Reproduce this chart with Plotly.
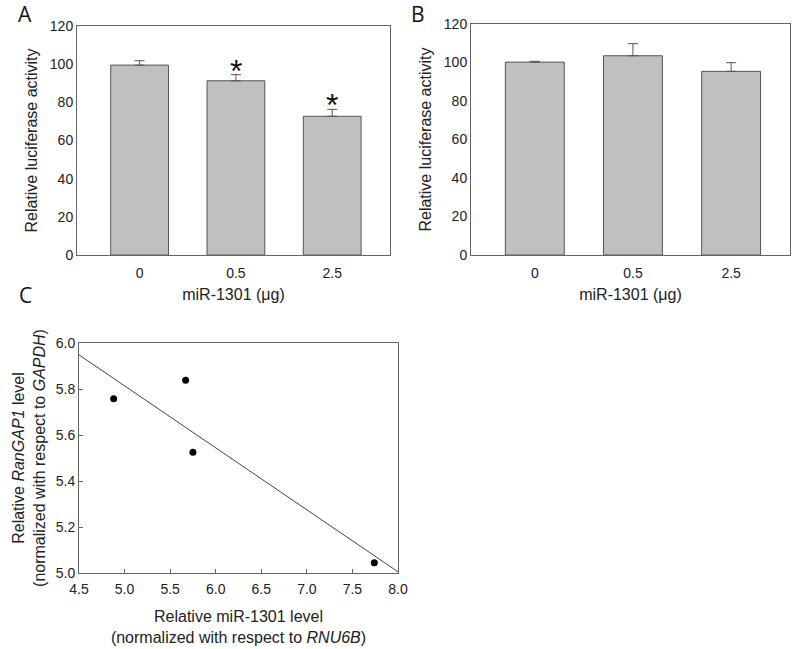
import numpy as np
import plotly.graph_objects as go

# ---- data ----
doses = ["0", "0.5", "2.5"]
a_values = [99.5, 91.3, 72.7]
a_errors = [2.3, 3.2, 3.6]
a_signif = [False, True, True]
b_values = [100.2, 103.5, 95.4]
b_errors = [0.4, 6.3, 4.5]
c_mir = [4.88, 5.67, 5.75, 7.74]
c_rangap = [5.758, 5.838, 5.525, 5.045]

W, H = 794, 649
def px(x): return x / W
def py(y): return 1 - y / H

fig = go.Figure()

bar_style = dict(marker=dict(color="#c0c0c0", line=dict(color="#555555", width=1)), width=0.6, showlegend=False)
err_style = dict(type="data", symmetric=False, thickness=1, width=5, color="#555555")

fig.add_trace(go.Bar(x=doses, y=a_values, xaxis="x", yaxis="y",
                     error_y=dict(array=a_errors, arrayminus=[0]*3, **err_style), **bar_style))
fig.add_trace(go.Bar(x=doses, y=b_values, xaxis="x2", yaxis="y2",
                     error_y=dict(array=b_errors, arrayminus=[0]*3, **err_style), **bar_style))

slope, intercept = np.polyfit(c_mir, c_rangap, 1)
lx = np.array([4.5, 8.0])
fig.add_trace(go.Scatter(x=lx, y=slope * lx + intercept, mode="lines", xaxis="x3", yaxis="y3",
                         line=dict(color="#444444", width=1), showlegend=False))
fig.add_trace(go.Scatter(x=c_mir, y=c_rangap, mode="markers", xaxis="x3", yaxis="y3",
                         marker=dict(color="black", size=7), showlegend=False))

font_t = dict(family="Liberation Sans, Arial, sans-serif", size=14, color="#222222")
font_title = dict(family="Liberation Sans, Arial, sans-serif", size=16, color="#222222")
axis_common = dict(showline=True, mirror=True, linecolor="#666666", linewidth=1,
                   showgrid=False, zeroline=False, tickfont=font_t, automargin=False)

bar_x = dict(type="category", categoryorder="array", categoryarray=doses, range=[-0.65, 2.6],
             ticks="", ticklabelstandoff=5,
             title=dict(text="miR-1301 (μg)", font=font_title, standoff=9), **axis_common)
bar_y = dict(range=[0, 120], tickvals=list(range(0, 121, 20)), ticks="",
             title=dict(text="Relative luciferase activity", font=font_title, standoff=8), **axis_common)

fig.update_layout(
    width=W, height=H, margin=dict(l=0, r=0, t=0, b=0, autoexpand=False),
    paper_bgcolor="white", plot_bgcolor="white", bargap=0.4,
    xaxis=dict(domain=[px(77), px(390)], anchor="y", **bar_x),
    yaxis=dict(domain=[py(255), py(26)], anchor="x", **bar_y),
    xaxis2=dict(domain=[px(471), px(790)], anchor="y2", **bar_x),
    yaxis2=dict(domain=[py(255), py(24)], anchor="x2", **bar_y),
    xaxis3=dict(domain=[px(79), px(398)], anchor="y3", range=[4.5, 8.0],
                tickvals=[4.5, 5.0, 5.5, 6.0, 6.5, 7.0, 7.5, 8.0], tickformat=".1f",
                ticks="inside", ticklen=4, tickcolor="#666666", ticklabelstandoff=3,
                title=dict(text="Relative miR-1301 level<br>(normalized with respect to <i>RNU6B</i>)",
                           font=font_title, standoff=15), **axis_common),
    yaxis3=dict(domain=[py(573), py(343)], anchor="x3", range=[5.0, 6.0],
                tickvals=[5.0, 5.2, 5.4, 5.6, 5.8, 6.0], tickformat=".1f",
                ticks="inside", ticklen=4, tickcolor="#666666",
                title=dict(text="Relative <i>RanGAP1</i> level<br>(normalized with respect to <i>GAPDH</i>)",
                           font=font_title, standoff=6), **axis_common),
)

letter_font = dict(family="Open Sans, sans-serif", size=21, color="#111111")
for txt, x, y in [("A", 25, 0), ("B", 418, 0), ("C", 25, 281)]:
    fig.add_annotation(text=txt, x=px(x), y=py(y), xref="paper", yref="paper",
                       showarrow=False, font=letter_font, xanchor="center", yanchor="top", yshift=2)

for i, (v, e, s) in enumerate(zip(a_values, a_errors, a_signif)):
    if s:
        fig.add_annotation(text="*", x=i, y=v + e, xref="x", yref="y", showarrow=False,
                           font=dict(family="Liberation Sans, Arial, sans-serif", size=32, color="#111111"),
                           xanchor="center", yanchor="middle", yshift=4)

fig.write_html("out.html", config={"displayModeBar": False},
               post_script="document.body.style.margin='0';document.body.style.padding='0';")
